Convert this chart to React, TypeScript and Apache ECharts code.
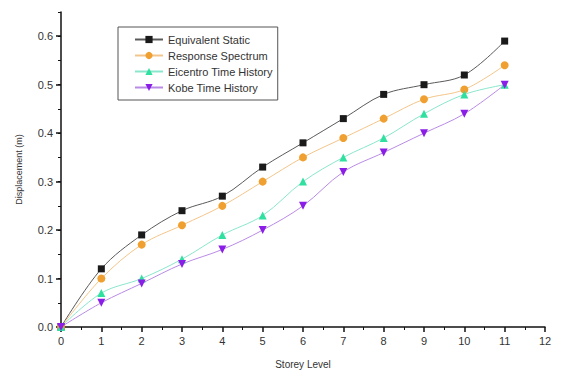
import React, { useEffect, useRef } from "react";
import * as echarts from "echarts";

const storeys = [0, 1, 2, 3, 4, 5, 6, 7, 8, 9, 10, 11];
const equivalentStatic = [0, 0.12, 0.19, 0.24, 0.27, 0.33, 0.38, 0.43, 0.48, 0.5, 0.52, 0.59];
const responseSpectrum = [0, 0.1, 0.17, 0.21, 0.25, 0.3, 0.35, 0.39, 0.43, 0.47, 0.49, 0.54];
const elcentro = [0, 0.07, 0.1, 0.14, 0.19, 0.23, 0.3, 0.35, 0.39, 0.44, 0.48, 0.5];
const kobe = [0, 0.05, 0.09, 0.13, 0.16, 0.2, 0.25, 0.32, 0.36, 0.4, 0.44, 0.5];
const yLabelValues = [0, 0.1, 0.2, 0.3, 0.4, 0.5, 0.6];

const seriesDefs = [
  { name: "Equivalent Static", data: equivalentStatic, symbol: "rect", rot: 0, color: "#1a1a1a", line: "#5a5a5a" },
  { name: "Response Spectrum", data: responseSpectrum, symbol: "circle", rot: 0, color: "#f0a030", line: "#f3c58a" },
  { name: "Eicentro Time History", data: elcentro, symbol: "triangle", rot: 0, color: "#2fe0a0", line: "#8ae6cc" },
  { name: "Kobe Time History", data: kobe, symbol: "triangle", rot: 180, color: "#8a1ee6", line: "#b98ae6" },
];

export default function App() {
  const ref = useRef<HTMLDivElement>(null);
  useEffect(() => {
    if (!ref.current) return;
    const chart = echarts.init(ref.current, undefined, { renderer: "svg" });
    const font = "Liberation Sans, Arial, sans-serif";
    chart.setOption({
      animation: false,
      backgroundColor: "#ffffff",
      grid: { left: 53, right: 16, top: 4, bottom: 45, containLabel: false, outerBoundsMode: "none" },
      legend: {
        orient: "vertical",
        left: 110,
        top: 19,
        borderColor: "#555",
        borderWidth: 1,
        padding: [7, 5, 7, 16],
        itemGap: 5,
        itemWidth: 28,
        itemHeight: 9,
        textStyle: { fontFamily: font, fontSize: 11, color: "#333" },
        data: seriesDefs.map((s) => s.name),
      },
      xAxis: {
        type: "value",
        min: 0,
        max: 12,
        interval: 1,
        name: "Storey Level",
        nameLocation: "middle",
        nameGap: 32,
        nameTextStyle: { fontFamily: font, fontSize: 10, color: "#333" },
        axisLine: { lineStyle: { color: "#111", width: 1.5 } },
        axisTick: { inside: false, length: 5, lineStyle: { color: "#111", width: 1.5 } },
        minorTick: { show: true, splitNumber: 2, length: 3, lineStyle: { color: "#111", width: 1 } },
        axisLabel: { fontFamily: font, fontSize: 11, color: "#333", margin: 8 },
        splitLine: { show: false },
      },
      yAxis: [
        {
          type: "value",
          min: 0,
          max: 0.65,
          interval: 0.05,
          name: "Displacement (m)",
          nameLocation: "middle",
          nameGap: 38,
          nameTextStyle: { fontFamily: font, fontSize: 9, color: "#333" },
          axisLine: { show: true, lineStyle: { color: "#111", width: 1.5 } },
          axisTick: { show: true, customValues: yLabelValues, length: 5, lineStyle: { color: "#111", width: 1.5 } },
          axisLabel: {
            customValues: yLabelValues,
            fontFamily: font,
            fontSize: 11,
            color: "#333",
            margin: 8,
            formatter: (v: number) => v.toFixed(1),
          },
          splitLine: { show: false },
        },
        {
          type: "value",
          min: 0,
          max: 0.65,
          interval: 0.05,
          position: "left",
          axisLine: { show: false },
          axisTick: { show: true, length: 3, lineStyle: { color: "#111", width: 1 } },
          axisLabel: { show: false },
          splitLine: { show: false },
        },
      ],
      series: seriesDefs.map((s) => ({
        name: s.name,
        type: "line",
        yAxisIndex: 0,
        smooth: 0.35,
        symbol: s.symbol,
        symbolRotate: s.rot,
        symbolSize: s.symbol === "rect" ? 7 : 8,
        itemStyle: { color: s.color },
        lineStyle: { color: s.line, width: 1 },
        data: storeys.map((x, i) => [x, s.data[i]]),
      })),
    });
    return () => chart.dispose();
  }, []);
  return <div ref={ref} style={{ width: 553, height: 364 }} />;
}
